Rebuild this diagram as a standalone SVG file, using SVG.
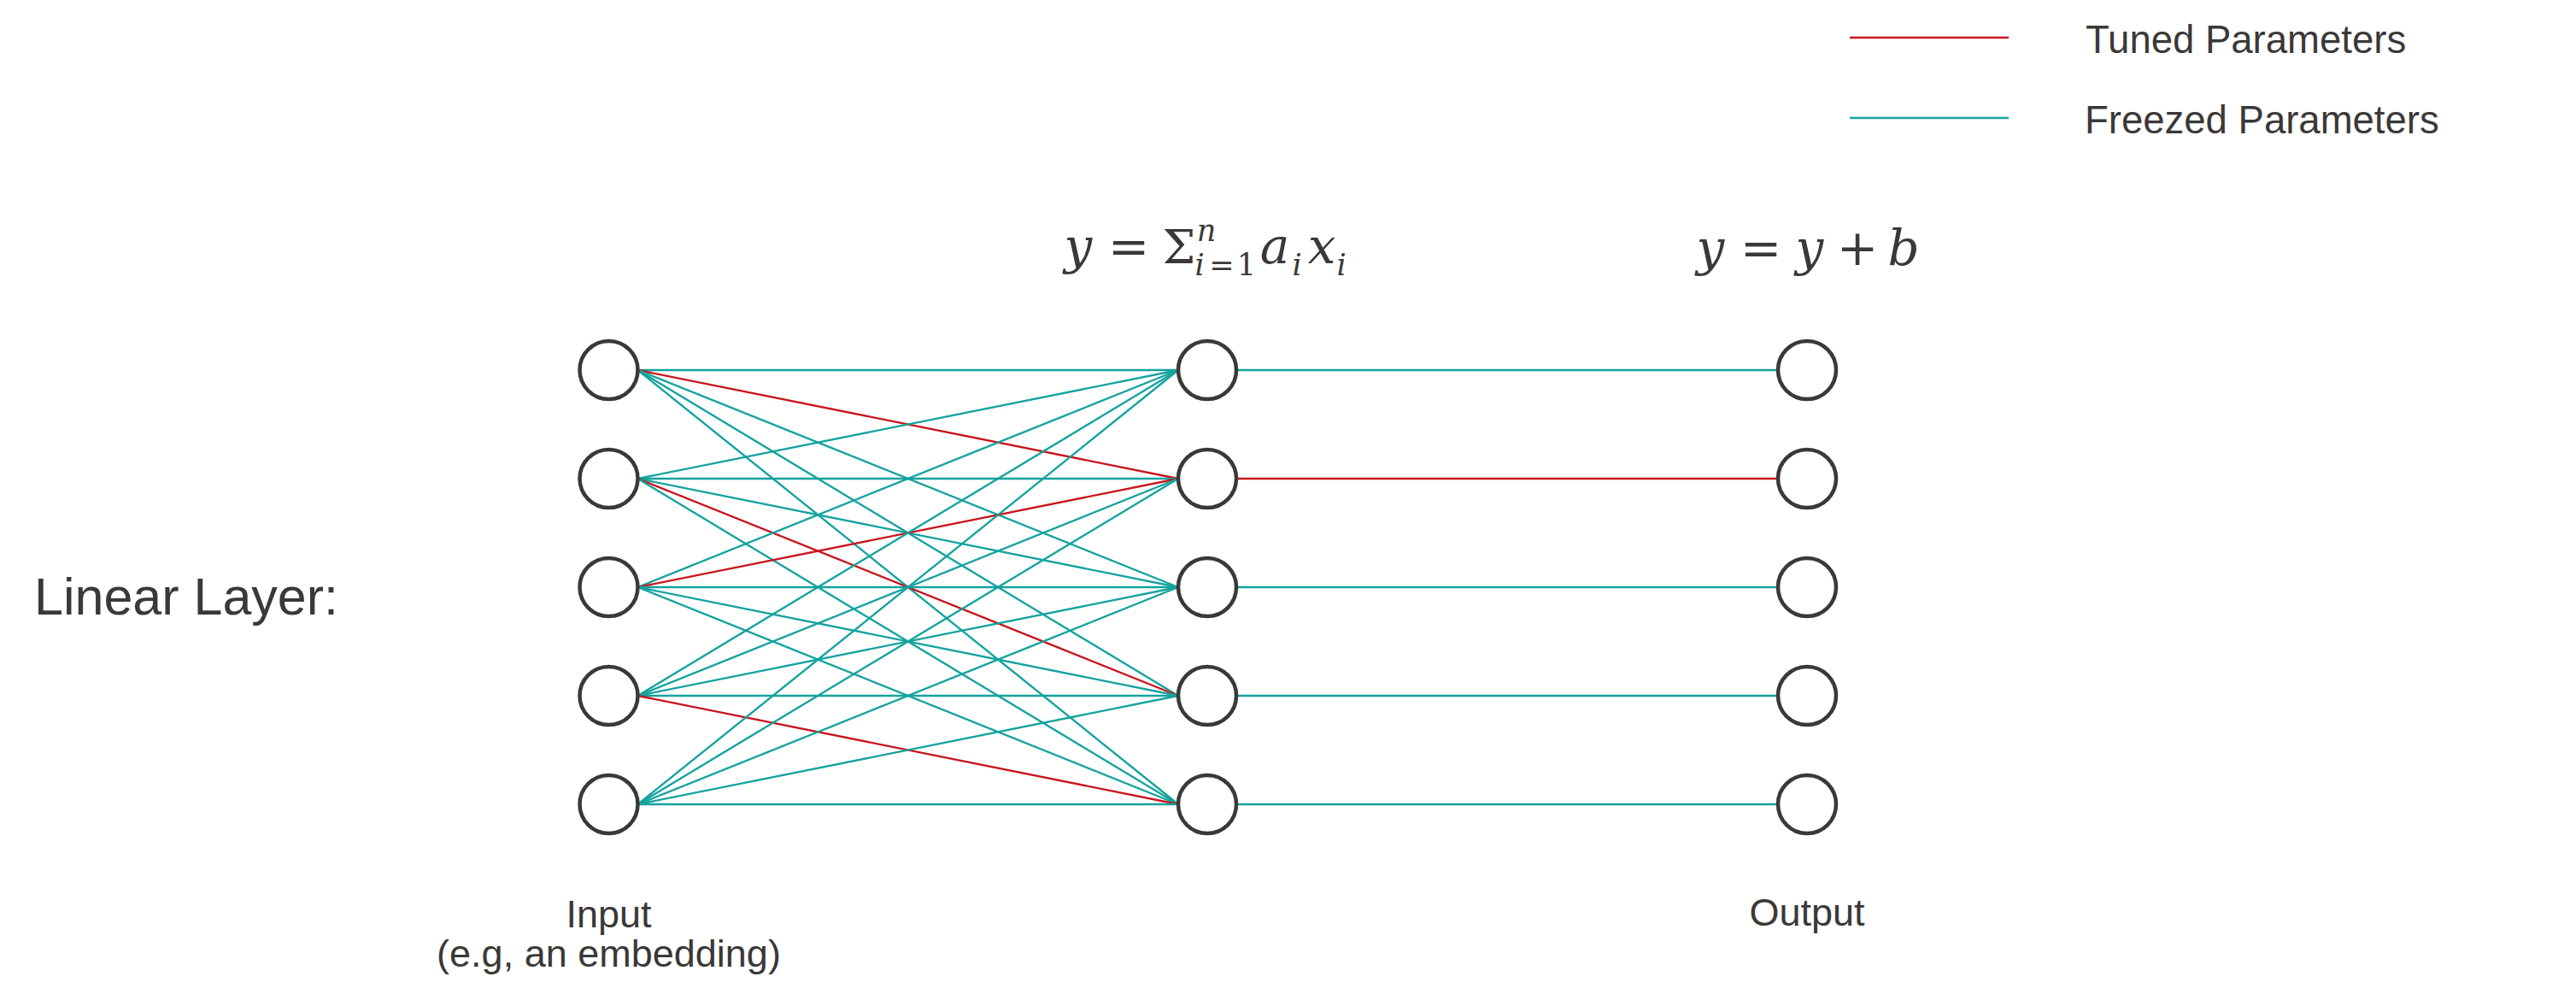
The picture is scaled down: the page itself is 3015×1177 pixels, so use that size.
<svg xmlns="http://www.w3.org/2000/svg" width="3015" height="1177" viewBox="0 0 3015 1177">
<style>
.node{fill:#fff;stroke:#3b3838;stroke-width:4.5}
.fz{stroke:#14a39e;stroke-width:2.4;fill:none}
.tn{stroke:#c8151e;stroke-width:2.4;fill:none}
.lbl{font-family:"Liberation Sans",Arial,sans-serif;fill:#3b3838}
.math{font-family:"DejaVu Serif","Liberation Serif",serif;fill:#3b3838;text-anchor:middle}
.it{font-style:italic}
.big{font-size:58px}
.sc{font-size:35px}
</style>
<rect width="3015" height="1177" fill="#fff"/>
<g id="legend">
<line class="tn" x1="2165" y1="44" x2="2351" y2="44" stroke-width="3"/>
<line class="fz" x1="2165" y1="138" x2="2351" y2="138" stroke-width="3"/>
<text class="lbl" x="2441" y="62" font-size="45.5">Tuned Parameters</text>
<text class="lbl" x="2440" y="156" font-size="45.5">Freezed Parameters</text>
</g>
<text id="title" class="lbl" x="40" y="719" font-size="61">Linear Layer:</text>
<g id="formula1" class="math">
<text class="big it" x="1262" y="308">y</text>
<text class="big" x="1321" y="308">=</text>
<text x="1380" y="308" font-size="55">Σ</text>
<text class="sc it" x="1412" y="282">n</text>
<text class="sc it" x="1404" y="322">i</text>
<text class="sc" x="1430" y="322">=</text>
<text class="sc" x="1459" y="322">1</text>
<text class="big it" x="1492" y="308">a</text>
<text class="sc it" x="1518" y="322">i</text>
<text class="big it" x="1547" y="308">x</text>
<text class="sc it" x="1570" y="322">i</text>
</g>
<g id="formula2" class="math">
<text class="big it" x="2002" y="310">y</text>
<text class="big" x="2061" y="310">=</text>
<text class="big it" x="2118" y="310">y</text>
<text class="big" x="2174" y="310">+</text>
<text class="big it" x="2228" y="310">b</text>
</g>
<g id="connectors">
<line class="fz" x1="746.5" y1="433" x2="1379" y2="433"/>
<line class="tn" x1="746.5" y1="433" x2="1379" y2="560"/>
<line class="fz" x1="746.5" y1="433" x2="1379" y2="687"/>
<line class="fz" x1="746.5" y1="433" x2="1379" y2="814"/>
<line class="fz" x1="746.5" y1="433" x2="1379" y2="941"/>
<line class="fz" x1="746.5" y1="560" x2="1379" y2="433"/>
<line class="fz" x1="746.5" y1="560" x2="1379" y2="560"/>
<line class="fz" x1="746.5" y1="560" x2="1379" y2="687"/>
<line class="tn" x1="746.5" y1="560" x2="1379" y2="814"/>
<line class="fz" x1="746.5" y1="560" x2="1379" y2="941"/>
<line class="fz" x1="746.5" y1="687" x2="1379" y2="433"/>
<line class="tn" x1="746.5" y1="687" x2="1379" y2="560"/>
<line class="fz" x1="746.5" y1="687" x2="1379" y2="687"/>
<line class="fz" x1="746.5" y1="687" x2="1379" y2="814"/>
<line class="fz" x1="746.5" y1="687" x2="1379" y2="941"/>
<line class="fz" x1="746.5" y1="814" x2="1379" y2="433"/>
<line class="fz" x1="746.5" y1="814" x2="1379" y2="560"/>
<line class="fz" x1="746.5" y1="814" x2="1379" y2="687"/>
<line class="fz" x1="746.5" y1="814" x2="1379" y2="814"/>
<line class="tn" x1="746.5" y1="814" x2="1379" y2="941"/>
<line class="fz" x1="746.5" y1="941" x2="1379" y2="433"/>
<line class="fz" x1="746.5" y1="941" x2="1379" y2="560"/>
<line class="fz" x1="746.5" y1="941" x2="1379" y2="687"/>
<line class="fz" x1="746.5" y1="941" x2="1379" y2="814"/>
<line class="fz" x1="746.5" y1="941" x2="1379" y2="941"/>
<line class="fz" x1="1447" y1="433" x2="2081" y2="433"/>
<line class="tn" x1="1447" y1="560" x2="2081" y2="560"/>
<line class="fz" x1="1447" y1="687" x2="2081" y2="687"/>
<line class="fz" x1="1447" y1="814" x2="2081" y2="814"/>
<line class="fz" x1="1447" y1="941" x2="2081" y2="941"/>
</g>
<g id="in1"><circle class="node" cx="712.5" cy="433" r="34"/></g>
<g id="in2"><circle class="node" cx="712.5" cy="560" r="34"/></g>
<g id="in3"><circle class="node" cx="712.5" cy="687" r="34"/></g>
<g id="in4"><circle class="node" cx="712.5" cy="814" r="34"/></g>
<g id="in5"><circle class="node" cx="712.5" cy="941" r="34"/></g>
<g id="h1"><circle class="node" cx="1413" cy="433" r="34"/></g>
<g id="h2"><circle class="node" cx="1413" cy="560" r="34"/></g>
<g id="h3"><circle class="node" cx="1413" cy="687" r="34"/></g>
<g id="h4"><circle class="node" cx="1413" cy="814" r="34"/></g>
<g id="h5"><circle class="node" cx="1413" cy="941" r="34"/></g>
<g id="out1"><circle class="node" cx="2115" cy="433" r="34"/></g>
<g id="out2"><circle class="node" cx="2115" cy="560" r="34"/></g>
<g id="out3"><circle class="node" cx="2115" cy="687" r="34"/></g>
<g id="out4"><circle class="node" cx="2115" cy="814" r="34"/></g>
<g id="out5"><circle class="node" cx="2115" cy="941" r="34"/></g>
<g id="input-label">
<text class="lbl" x="712.5" y="1085" font-size="45" text-anchor="middle">Input</text>
<text class="lbl" x="712.5" y="1131" font-size="45" text-anchor="middle">(e.g, an embedding)</text>
</g>
<text id="output-label" class="lbl" x="2115" y="1083" font-size="45" text-anchor="middle">Output</text>
</svg>
